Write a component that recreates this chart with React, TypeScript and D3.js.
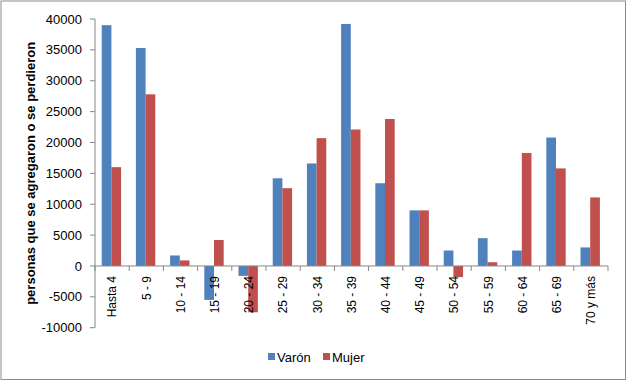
import React from "react";
import * as d3 from "d3";

const categories = ["Hasta 4", "5 - 9", "10 - 14", "15 - 19", "20 - 24", "25 - 29", "30 - 34", "35 - 39", "40 - 44", "45 - 49", "50 - 54", "55 - 59", "60 - 64", "65 - 69", "70 y más"];
const varon = [39000, 35300, 1700, -5500, -1600, 14200, 16600, 39200, 13400, 9000, 2500, 4500, 2500, 20800, 3000];
const mujer = [16000, 27800, 900, 4200, -7500, 12600, 20700, 22100, 23800, 9000, -1800, 600, 18300, 15800, 11100];
const yTicks = [-10000, -5000, 0, 5000, 10000, 15000, 20000, 25000, 30000, 35000, 40000];
const seriesNames = ["Varón", "Mujer"];
const colors = ["#4F81BD", "#C0504D"];

export default function App() {
  const W = 627, H = 381;
  const left = 95, right = 608, top = 19, bottom = 327.7;
  const y = d3.scaleLinear().domain([-10000, 40000]).range([bottom, top]);
  const x = d3.scaleBand().domain(categories).range([left, right]).paddingInner(0).paddingOuter(0);
  const bw = x.bandwidth();
  const barW = bw * 0.283;
  const font = "'Liberation Sans', Arial, sans-serif";
  const y0 = y(0);
  const series = [varon, mujer];
  return (
    <svg width={W} height={H} style={{ position: "absolute", left: 0, top: 0 }} fontFamily={font}>
      <rect x={0} y={0} width={W} height={H} fill="#fff" />
      <rect x={1} y={1} width={624.5} height={378.5} fill="none" stroke="#8c8c8c" strokeWidth={1} />
      {series.map((vals, si) =>
        vals.map((v, i) => {
          const cx = (x(categories[i]) as number) + bw / 2 - 0.7;
          const bx = cx - barW + si * barW;
          return (
            <rect key={si + "-" + i} x={bx} y={Math.min(y(v), y0)} width={barW} height={Math.abs(y(v) - y0)} fill={colors[si]} />
          );
        })
      )}
      {/* y axis */}
      <line x1={left} x2={left} y1={top} y2={bottom} stroke="#868686" />
      {yTicks.map((t) => (
        <g key={t}>
          <line x1={left - 5} x2={left} y1={y(t)} y2={y(t)} stroke="#868686" />
          <text x={82} y={y(t)} dy="0.35em" textAnchor="end" fontSize={13} fill="#000">{t}</text>
        </g>
      ))}
      {/* x axis */}
      <line x1={left} x2={right} y1={y0} y2={y0} stroke="#868686" />
      {d3.range(categories.length + 1).map((i) => (
        <line key={i} x1={left + i * bw} x2={left + i * bw} y1={y0} y2={y0 + 5} stroke="#868686" />
      ))}
      {categories.map((c) => {
        const cx = (x(c) as number) + bw / 2;
        return (
          <text key={c} transform={`translate(${cx},${y0 + 10}) rotate(-90)`} textAnchor="end" dy="0.35em" fontSize={12} fill="#000">{c}</text>
        );
      })}
      <text transform={`translate(35,${(top + bottom) / 2}) rotate(-90)`} textAnchor="middle" fontSize={13} fontWeight="bold" fill="#000">personas que se agregaron o se perdieron</text>
      {/* legend */}
      {seriesNames.map((n, i) => {
        const lx = i === 0 ? 268 : 323;
        return (
          <g key={n}>
            <rect x={lx} y={353} width={7} height={7} fill={colors[i]} />
            <text x={lx + 9} y={357} dy="0.35em" fontSize={13} fill="#000">{n}</text>
          </g>
        );
      })}
    </svg>
  );
}
